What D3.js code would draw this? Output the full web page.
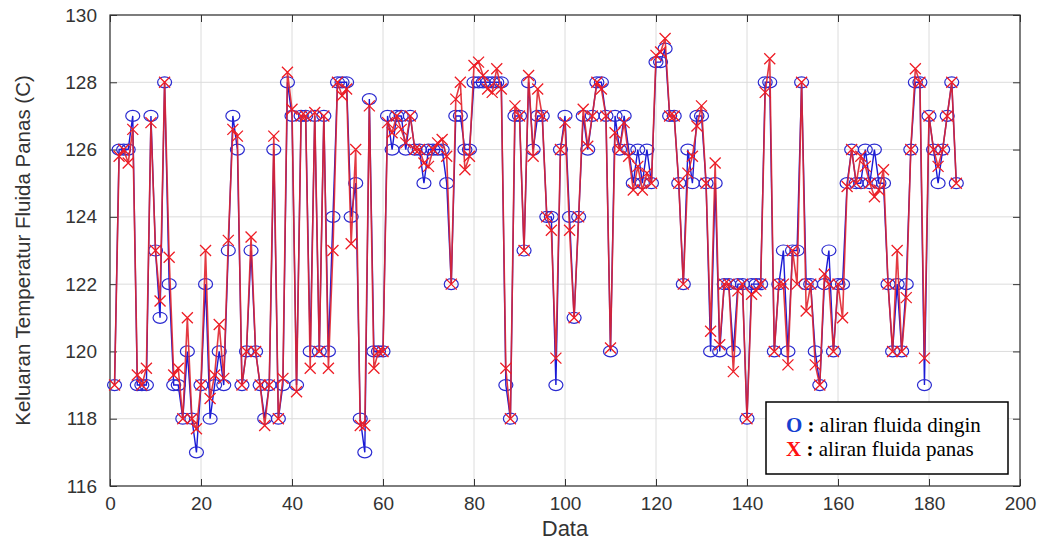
<!DOCTYPE html>
<html>
<head>
<meta charset="utf-8">
<script src="https://cdn.jsdelivr.net/npm/d3@7"></script>
<style>
  body { margin: 0; background: #fff; }
  svg text { font-family: "Liberation Sans", Arial, sans-serif; }
</style>
</head>
<body>
<script>
// data: suhu keluaran, aliran dingin (O) dan panas (X)
var dingin = [
  119,126,126,126,127,119,119,119,127,123,
  121,128,122,119,119,118,120,118,117,119,
  122,118,119,120,119,123,127,126,119,120,
  123,120,119,118,119,126,118,119,128,127,
  119,127,127,120,127,120,127,120,124,128,
  128,128,124,125,118,117,127.5,120,120,120,
  127,126,127,127,126,127,126,126,125,126,
  126,126,126,125,122,127,127,126,126,128,
  128,128,128,128,128,128,119,118,127,127,
  123,128,126,127,127,124,124,119,126,127,
  124,121,124,127,126,127,128,128,127,120,
  127,126,127,126,125,126,125,126,125,128.6,
  128.6,129,127,127,125,122,126,125,127,127,
  125,120,125,120,122,122,120,122,122,118,
  122,122,122,128,128,120,122,123,120,123,
  123,128,122,122,120,119,122,123,120,122,
  122,125,126,125,125,126,125,126,125,125,
  122,120,122,120,122,126,128,128,119,127,
  126,125,126,127,128,125
];
var panas = [
  119,125.8,126,125.6,126.6,119.3,119,119.5,126.8,123,
  121.5,128,122.8,119.3,119.5,118,121,118,117.7,119,
  123,118.6,119.3,120.8,119.2,123.3,126.6,126.4,119,120,
  123.4,120,119,117.8,119,126.4,118,119.2,128.3,127.2,
  118.8,127,127,119.5,127.1,120,127,119.5,123,128,
  127.6,127.8,123.2,126,117.8,117.8,127.3,119.5,120,120,
  126.8,126.5,127,126.6,126.2,127,126,126,125.6,125.5,
  126,126.2,126.3,125.8,122,127.5,128,125.4,125.8,128.5,
  128.6,128.2,127.8,127.7,128.4,127.8,119.5,118,127.3,127,
  123,128.2,125.8,127.8,127,124,123.6,119.8,126,126.8,
  123.6,121,124,127.2,126.1,127,128,127.8,127,120.1,
  126.5,126,126.8,125.8,124.8,125.5,124.8,125.3,125,128.8,
  128.9,129.3,127,127,125,122,125.3,125.8,126.7,127.3,
  125,120.6,125.6,120.2,122,122,119.4,121.8,122,118,
  121.7,121.8,122,127.7,128.7,120,122,122,119.6,123,
  122,128,121.2,122,119.6,119,122.3,122,120,122,
  121,124.9,126,125,125.8,125.5,125,124.6,124.8,125.4,
  122,120,123,120,121.6,126,128.4,128,119.8,127,
  126,125.5,126,127,128,125
];
var xTicks = [0,20,40,60,80,100,120,140,160,180,200];
var yTicks = [116,118,120,122,124,126,128,130];

var w = 1046, h = 542;
var pL = 110, pR = 1020, pT = 15, pB = 486;

var svg = d3.select("body").append("svg")
  .attr("width", w).attr("height", h);

var x = d3.scaleLinear().domain([0, 200]).range([pL, pR]);
var y = d3.scaleLinear().domain([116, 130]).range([pB, pT]);

// grid
svg.selectAll("line.gx").data(xTicks).enter().append("line")
  .attr("x1", d => x(d)).attr("x2", d => x(d))
  .attr("y1", pT).attr("y2", pB)
  .attr("stroke", "#dcdcdc").attr("stroke-width", 1);
svg.selectAll("line.gy").data(yTicks).enter().append("line")
  .attr("y1", d => y(d)).attr("y2", d => y(d))
  .attr("x1", pL).attr("x2", pR)
  .attr("stroke", "#dcdcdc").attr("stroke-width", 1);

// axes (ticks inside, like matlab)
var ax = svg.append("g").attr("transform", "translate(0," + pB + ")")
  .call(d3.axisBottom(x).tickValues(xTicks).tickSizeInner(-7).tickSizeOuter(0).tickPadding(11));
var axT = svg.append("g").attr("transform", "translate(0," + pT + ")")
  .call(d3.axisTop(x).tickValues(xTicks).tickSizeInner(-7).tickSizeOuter(0).tickFormat(""));
var ay = svg.append("g").attr("transform", "translate(" + pL + ",0)")
  .call(d3.axisLeft(y).tickValues(yTicks).tickSizeInner(-7).tickSizeOuter(0).tickPadding(13));
var ayR = svg.append("g").attr("transform", "translate(" + pR + ",0)")
  .call(d3.axisRight(y).tickValues(yTicks).tickSizeInner(-7).tickSizeOuter(0).tickFormat(""));

[ax, axT, ay, ayR].forEach(function(g) {
  g.select(".domain").remove();
  g.selectAll("line").attr("stroke", "#333");
  g.selectAll("text").attr("fill", "#333").style("font-size", "19px")
    .style("font-family", "Liberation Sans, Arial, sans-serif");
});

svg.append("rect")
  .attr("x", pL).attr("y", pT)
  .attr("width", pR - pL).attr("height", pB - pT)
  .attr("fill", "none").attr("stroke", "#333").attr("stroke-width", 1.2);

// series
var line = d3.line().x((d, i) => x(i + 1)).y(d => y(d));

svg.append("path").datum(dingin)
  .attr("d", line).attr("fill", "none")
  .attr("stroke", "#1a1ad6").attr("stroke-width", 1.4);

svg.selectAll("ellipse").data(dingin).enter().append("ellipse")
  .attr("cx", (d, i) => x(i + 1)).attr("cy", d => y(d))
  .attr("rx", 7).attr("ry", 5.5)
  .attr("fill", "none").attr("stroke", "#2a2ad0").attr("stroke-width", 1.2);

svg.append("path").datum(panas)
  .attr("d", line).attr("fill", "none")
  .attr("stroke", "#e0242e").attr("stroke-width", 1.6).attr("opacity", 0.9);

var s = 5.5;
svg.selectAll("path.xm").data(panas).enter().append("path")
  .attr("class", "xm")
  .attr("d", function(d, i) {
    var cx = x(i + 1), cy = y(d);
    return "M" + (cx - s) + "," + (cy - s) + "L" + (cx + s) + "," + (cy + s) +
           "M" + (cx - s) + "," + (cy + s) + "L" + (cx + s) + "," + (cy - s);
  })
  .attr("stroke", "#ee1c24").attr("stroke-width", 1.3).attr("fill", "none");

// labels
svg.append("text")
  .attr("x", (pL + pR) / 2).attr("y", 536)
  .attr("text-anchor", "middle").attr("fill", "#333")
  .style("font-size", "22px").text("Data");

svg.append("text")
  .attr("transform", "translate(30," + ((pT + pB) / 2) + ") rotate(-90)")
  .attr("text-anchor", "middle").attr("fill", "#333")
  .style("font-size", "20.5px").text("Keluaran Temperatur Fluida Panas (C)");

// legend
var lg = svg.append("g");
lg.append("rect")
  .attr("x", 766).attr("y", 402).attr("width", 242).attr("height", 72)
  .attr("fill", "#fff").attr("stroke", "#000").attr("stroke-width", 1.5);

var rows = [
  { sym: "O", col: "#1540d0", txt: "aliran fluida dingin" },
  { sym: "X", col: "#ff1010", txt: "aliran fluida panas" }
];
rows.forEach(function(r, i) {
  var t = lg.append("text")
    .attr("x", 786).attr("y", 432 + i * 24)
    .style("font-family", "Liberation Serif, Times New Roman, serif")
    .style("font-size", "21px").attr("fill", "#000");
  t.append("tspan").attr("fill", r.col).attr("font-weight", "bold").text(r.sym);
  t.append("tspan").attr("font-weight", "bold").text(" : ");
  t.append("tspan").text(r.txt);
});
</script>
</body>
</html>
